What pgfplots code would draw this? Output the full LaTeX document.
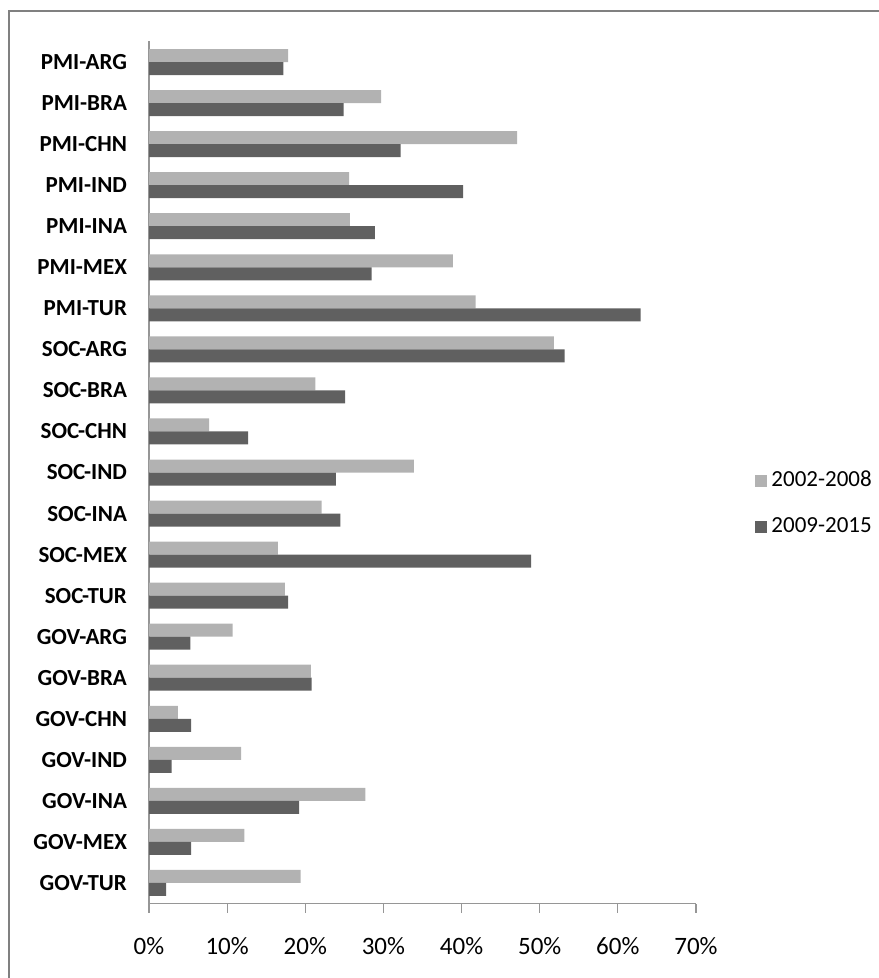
\documentclass[border=0pt]{standalone}
\usepackage{pgfplots}
\usepackage{pgfplotstable}
\pgfplotsset{compat=1.18}
\usepackage{fontspec}
\setmainfont{Carlito}
\definecolor{lightbar}{RGB}{178,178,178}
\definecolor{darkbar}{RGB}{96,96,96}
\definecolor{axisgray}{RGB}{150,150,150}
\definecolor{framegray}{RGB}{128,128,128}
\pgfplotstableread{
idx light dark
0 17.8 17.2
1 29.7 24.9
2 47.1 32.2
3 25.6 40.2
4 25.7 28.9
5 38.9 28.5
6 41.8 62.9
7 51.8 53.2
8 21.3 25.1
9 7.7 12.7
10 33.9 23.9
11 22.1 24.5
12 16.5 48.9
13 17.4 17.8
14 10.7 5.3
15 20.7 20.8
16 3.7 5.4
17 11.8 2.9
18 27.7 19.2
19 12.2 5.4
20 19.4 2.2
}\datatable
\begin{document}
\begin{tikzpicture}
\draw[framegray, line width=1pt] (4.5pt,-10pt) -- (4.5pt,483.5pt) -- (445pt,483.5pt);
\begin{axis}[
  at={(74.5pt,37.25pt)}, anchor=south west,
  scale only axis, width=273.5pt, height=431pt,
  xbar=0pt, bar width=6.5pt,
  xmin=0, xmax=70, ymin=-0.5, ymax=20.5, y dir=reverse,
  axis lines*=left,
  axis line style={axisgray, line width=0.6pt},
  tick align=outside, major tick length=4.5pt,
  xtick={0,10,...,70},
  xtick style={axisgray, line width=0.6pt},
  ytick style={draw=none},
  ytick={0,...,20},
  yticklabels={PMI-ARG,PMI-BRA,PMI-CHN,PMI-IND,PMI-INA,PMI-MEX,PMI-TUR,SOC-ARG,SOC-BRA,SOC-CHN,SOC-IND,SOC-INA,SOC-MEX,SOC-TUR,GOV-ARG,GOV-BRA,GOV-CHN,GOV-IND,GOV-INA,GOV-MEX,GOV-TUR},
  yticklabel style={font=\bfseries\fontsize{11.5}{13}\selectfont, xshift=-3pt},
  xticklabel={\pgfmathprintnumber[assume math mode=true]{\tick}\%},
  xticklabel style={font=\fontsize{12.5}{15}\selectfont, yshift=-9pt},
  legend style={at={(1.108,0.464)}, anchor=west, draw=none, fill=none,
    font=\fontsize{11.5}{13}\selectfont, row sep=10pt, inner sep=0pt},
  legend cell align=left,
]
\addplot[fill=lightbar, draw=none, bar shift=3.25pt, legend image code/.code={\fill[lightbar] (0pt,-3pt) rectangle (6pt,3pt);}] table[x=light, y=idx] {\datatable};
\addlegendentry{2002-2008}
\addplot[fill=darkbar, draw=none, bar shift=-3.25pt, legend image code/.code={\fill[darkbar] (0pt,-3pt) rectangle (6pt,3pt);}] table[x=dark, y=idx] {\datatable};
\addlegendentry{2009-2015}
\end{axis}
\pgfresetboundingbox
\useasboundingbox (0,0) rectangle (439pt,489pt);
\end{tikzpicture}
\end{document}
